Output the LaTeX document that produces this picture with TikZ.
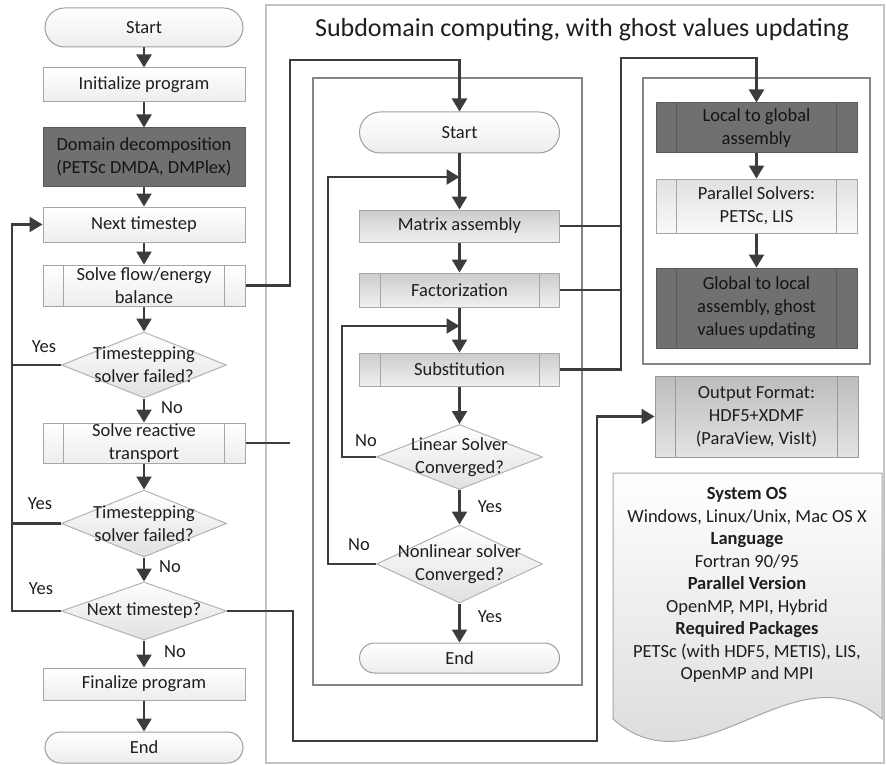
\documentclass[tikz,border=0pt]{standalone}
\usepackage{fontspec}
\setmainfont{Carlito}
\usetikzlibrary{arrows.meta,shapes.geometric,shapes.misc}
\definecolor{conn}{HTML}{3C3C3C}
\definecolor{bord}{HTML}{A6A6A6}
\definecolor{darkfill}{HTML}{707070}
\definecolor{darkbord}{HTML}{5A5A5A}
\definecolor{txt}{HTML}{1E1E1E}
\definecolor{framecol}{HTML}{858585}
\definecolor{bigframe}{HTML}{C4C4C4}
\tikzset{
  base/.style={font=\fontsize{18.5}{23}\selectfont, text=txt, align=center, inner sep=0pt},
  lightbox/.style={base, rectangle, draw=bord, line width=1pt, top color=white, bottom color=black!7},
  darkbox/.style={base, rectangle, draw=darkbord, line width=1pt, fill=darkfill, text=black!92},
  medbox/.style={base, rectangle, draw=bord, line width=1pt, top color=black!20, bottom color=black!6},
  outbox/.style={base, rectangle, draw=black!40, line width=1pt, top color=black!26, bottom color=black!11},
  parbox/.style={base, rectangle, draw=bord, line width=1pt, top color=black!12, bottom color=black!2},
  pp/.style={path picture={
    \draw[draw=#1, line width=1pt] ([xshift=20.5pt]path picture bounding box.north west) -- ([xshift=20.5pt]path picture bounding box.south west);
    \draw[draw=#1, line width=1pt] ([xshift=-20.5pt]path picture bounding box.north east) -- ([xshift=-20.5pt]path picture bounding box.south east);}},
  pp/.default=bord,
  pill/.style={base, rounded rectangle, draw=black!38, line width=1pt, top color=white, bottom color=black!7},
  dia/.style={base, diamond, draw=black!30, line width=1pt, top color=white, bottom color=black!12},
  lbl/.style={base},
  line/.style={draw=conn, line width=2.3pt},
  arr/.style={line, -{Triangle[length=13pt,width=15pt]}},
}
\begin{document}
\begin{tikzpicture}[x=1pt,y=-1pt]
\useasboundingbox (0,0) rectangle (886,765);
% frames
\draw[bigframe, line width=1.6pt] (266,5) rectangle (884,763);
\draw[framecol, line width=1.6pt] (313,78) rectangle (582,685);
\draw[framecol, line width=1.6pt] (643,78) rectangle (870,364);
\node[base, font=\fontsize{26}{30}\selectfont] (title) at (582,30) {Subdomain computing, with ghost values updating};

% left column
\node[pill, minimum width=198pt, minimum height=39pt] (start1) at (144,27.5) {Start};
\node[lightbox, minimum width=202pt, minimum height=34pt] (init) at (144,85) {Initialize program};
\node[darkbox, minimum width=202pt, minimum height=58pt] (dd) at (144,157) {Domain decomposition\\(PETSc DMDA, DMPlex)};
\node[lightbox, minimum width=202pt, minimum height=35pt] (next) at (144,224.5) {Next timestep};
\node[lightbox, pp, minimum width=202pt, minimum height=41pt] (sfe) at (144,285.5) {Solve flow/energy\\balance};
\node[dia, minimum width=165pt, minimum height=66pt, label={[base]center:Timestepping\\solver failed?}] (d1) at (144,365) {};
\node[lightbox, pp, minimum width=202pt, minimum height=40pt] (srt) at (144,443) {Solve reactive\\transport};
\node[dia, minimum width=165pt, minimum height=67pt, label={[base]center:Timestepping\\solver failed?}] (d2) at (144,523.5) {};
\node[dia, minimum width=165pt, minimum height=58pt, label={[base]center:Next timestep?}] (d3) at (144,611) {};
\node[lightbox, minimum width=202pt, minimum height=32pt] (fin) at (144,684) {Finalize program};
\node[pill, minimum width=198pt, minimum height=31pt] (end1) at (144,747.5) {End};

\node[lbl] (y1) at (44,347) {Yes};
\node[lbl] (y2) at (40,504) {Yes};
\node[lbl] (y3) at (41,589) {Yes};
\node[lbl] (n1) at (172,408) {No};
\node[lbl] (n2) at (170,567) {No};
\node[lbl] (n3) at (175,652) {No};

\draw[arr] (start1.south) -- (init.north);
\draw[arr] (init.south) -- (dd.north);
\draw[arr] (dd.south) -- (next.north);
\draw[arr] (next.south) -- (sfe.north);
\draw[arr] (sfe.south) -- (d1.north);
\draw[arr] (d1.south) -- (srt.north);
\draw[arr] (srt.south) -- (d2.north);
\draw[arr] (d2.south) -- (d3.north);
\draw[arr] (d3.south) -- (fin.north);
\draw[arr] (fin.south) -- (end1.north);

\coordinate (fb) at (12,224.5);
\draw[arr] (d3.west) -| (fb) -- (next.west);
\draw[line] (d1.west) -- (d1.west -| fb);
\draw[line] (d2.west) -- (d2.west -| fb);

% center column
\node[pill, minimum width=200pt, minimum height=41pt] (start2) at (459.5,132.5) {Start};
\node[medbox, minimum width=200pt, minimum height=32pt] (ma) at (459.5,226) {Matrix assembly};
\node[medbox, pp, minimum width=200pt, minimum height=34pt] (fac) at (459.5,290) {Factorization};
\node[medbox, pp, minimum width=200pt, minimum height=33pt] (sub) at (459.5,369.5) {Substitution};
\node[dia, minimum width=166pt, minimum height=65pt, label={[base]center:Linear Solver\\Converged?}] (ls) at (459.5,457) {};
\node[dia, minimum width=166pt, minimum height=78pt, label={[base]center:Nonlinear solver\\Converged?}] (nl) at (459.5,564) {};
\node[pill, minimum width=200pt, minimum height=30pt] (end2) at (459.5,658) {End};

\node[lbl] (n4) at (366,441) {No};
\node[lbl] (n5) at (359,545) {No};
\node[lbl] (y4) at (490,507) {Yes};
\node[lbl] (y5) at (490,617) {Yes};

\coordinate (j1) at (459.5,177);
\coordinate (j2) at (459.5,326);
\coordinate (c4) at (328,177);
\coordinate (c5) at (342,326);
\draw[arr] (start2.south) -- (ma.north);
\draw[arr] (ma.south) -- (fac.north);
\draw[arr] (fac.south) -- (sub.north);
\draw[arr] (sub.south) -- (ls.north);
\draw[arr] (ls.south) -- (nl.north);
\draw[arr] (nl.south) -- (end2.north);
\draw[arr] (nl.west) -| (c4) -- (j1);
\draw[arr] (ls.west) -| (c5) -- (j2);

% left to center connectors
\coordinate (c3) at (290,60);
\draw[arr] (sfe.east) -| (c3) -| (start2.north);
\draw[line] (srt.east) -- (srt.east -| c3);

% right column
\node[darkbox, pp=darkbord, minimum width=201pt, minimum height=50pt] (ltg) at (756.5,128) {Local to global\\assembly};
\node[parbox, pp, minimum width=201pt, minimum height=54pt] (ps) at (756.5,206) {Parallel Solvers:\\PETSc, LIS};
\node[darkbox, pp=darkbord, minimum width=201pt, minimum height=80pt] (gtl) at (756.5,308) {Global to local\\assembly, ghost\\values updating};
\node[outbox, pp=black!40, minimum width=203pt, minimum height=81pt] (out) at (756.5,416.5) {Output Format:\\HDF5+XDMF\\(ParaView, VisIt)};
\draw[arr] (ltg.south) -- (ps.north);
\draw[arr] (ps.south) -- (gtl.north);

\coordinate (c6) at (621,58);
\draw[line] (ma.east) -- (ma.east -| c6);
\draw[line] (fac.east) -- (fac.east -| c6);
\draw[arr] (sub.east) -| (c6) -| (ltg.north);

\coordinate (c1) at (293,741);
\coordinate (c2) at (597,741);
\draw[arr] (d3.east) -| (c1) -- (c2) |- (out.west);

% document
\draw[draw=black!35, line width=1pt, top color=white, bottom color=black!16]
  (613,473) -- (882,473) -- (882,719) .. controls (795,644) and (700,796) .. (613,719) -- cycle;
\node[base, font=\fontsize{18.5}{22.5}\selectfont] (doc) at (747,585) {\textbf{System OS}\\Windows, Linux/Unix, Mac OS X\\\textbf{Language}\\Fortran 90/95\\\textbf{Parallel Version}\\OpenMP, MPI, Hybrid\\\textbf{Required Packages}\\PETSc (with HDF5, METIS), LIS,\\OpenMP and MPI};
\end{tikzpicture}
\end{document}
